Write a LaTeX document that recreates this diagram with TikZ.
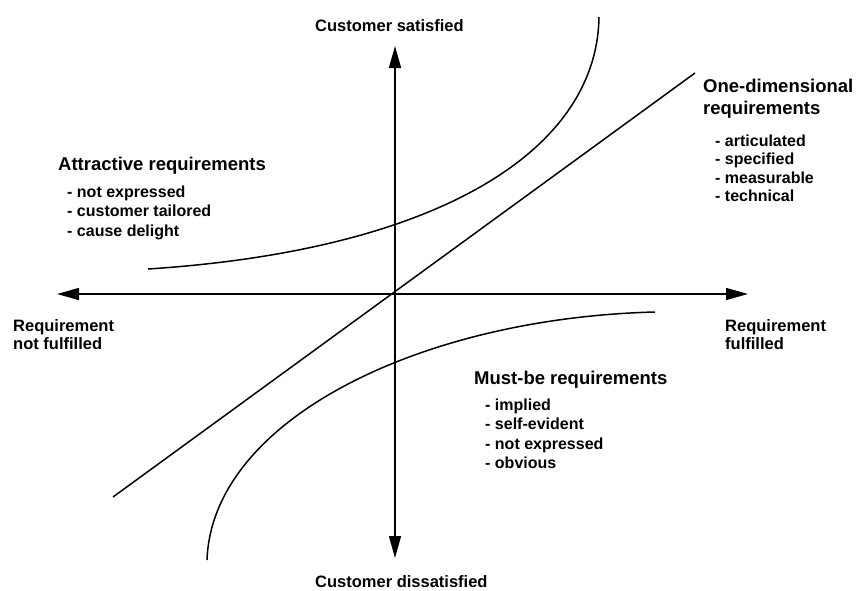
\documentclass[tikz,border=0pt]{standalone}
\usepackage{fontspec}
\setmainfont{Liberation Sans}
\usetikzlibrary{arrows.meta}
\begin{document}
\begin{tikzpicture}[x=1pt,y=-1pt,
  axis/.style={line width=1.5pt, {Triangle[length=22pt,width=12pt]}-{Triangle[length=22pt,width=12pt]}},
  curve/.style={line width=1.5pt},
  lbl/.style={anchor=base west, inner sep=0pt, font=\bfseries\fontsize{16.5}{19}\selectfont},
  head/.style={anchor=base west, inner sep=0pt, font=\bfseries\fontsize{18.5}{22}\selectfont},
  item/.style={anchor=base west, inner sep=0pt, font=\bfseries\fontsize{16}{19}\selectfont}]
\useasboundingbox[fill=white] (0,0) rectangle (860,590);

% axes
\coordinate (L) at (57,294);
\coordinate (R) at (748,294);
\coordinate (T) at (395,46);
\coordinate (B) at (395,558);
\draw[axis] (L) -- (R);
\draw[axis] (T) -- (B);

% one-dimensional line
\coordinate (D1) at (113,497);
\coordinate (D2) at (695,73);
\draw[curve] (D1) -- (D2);

% attractive curve
\coordinate (A1) at (148,269);
\coordinate (A2) at (599,17);
\draw[curve] (A1) .. controls (440,250) and (597,150) .. (A2);

% must-be curve
\coordinate (M1) at (207,560);
\coordinate (M2) at (655,312);
\draw[curve] (M1) .. controls (212,420) and (420,318) .. (M2);

% axis labels
\node[lbl] (csat) at (315,31) {Customer satisfied};
\node[lbl] (cdis) at (315,587) {Customer dissatisfied};
\node[lbl] (rnf1) at (13,331) {Requirement};
\node[lbl] (rnf2) at (13,349) {not fulfilled};
\node[lbl] (rf1) at (725,331) {Requirement};
\node[lbl] (rf2) at (725,349) {fulfilled};

% attractive
\node[head] (att) at (58,170) {Attractive requirements};
\node[item] (att1) at (67,197) {- not expressed};
\node[item] (att2) at (67,216.5) {- customer tailored};
\node[item] (att3) at (67,236) {- cause delight};

% one-dimensional
\node[head] (one1) at (703,92) {One-dimensional};
\node[head] (one2) at (703,114) {requirements};
\node[item] (one3) at (715,146) {- articulated};
\node[item] (one4) at (715,164) {- specified};
\node[item] (one5) at (715,183) {- measurable};
\node[item] (one6) at (715,201) {- technical};

% must-be
\node[head] (mb) at (474,384) {Must-be requirements};
\node[item] (mb1) at (485,410) {- implied};
\node[item] (mb2) at (485,429) {- self-evident};
\node[item] (mb3) at (485,449) {- not expressed};
\node[item] (mb4) at (485,468) {- obvious};
\end{tikzpicture}
\end{document}
